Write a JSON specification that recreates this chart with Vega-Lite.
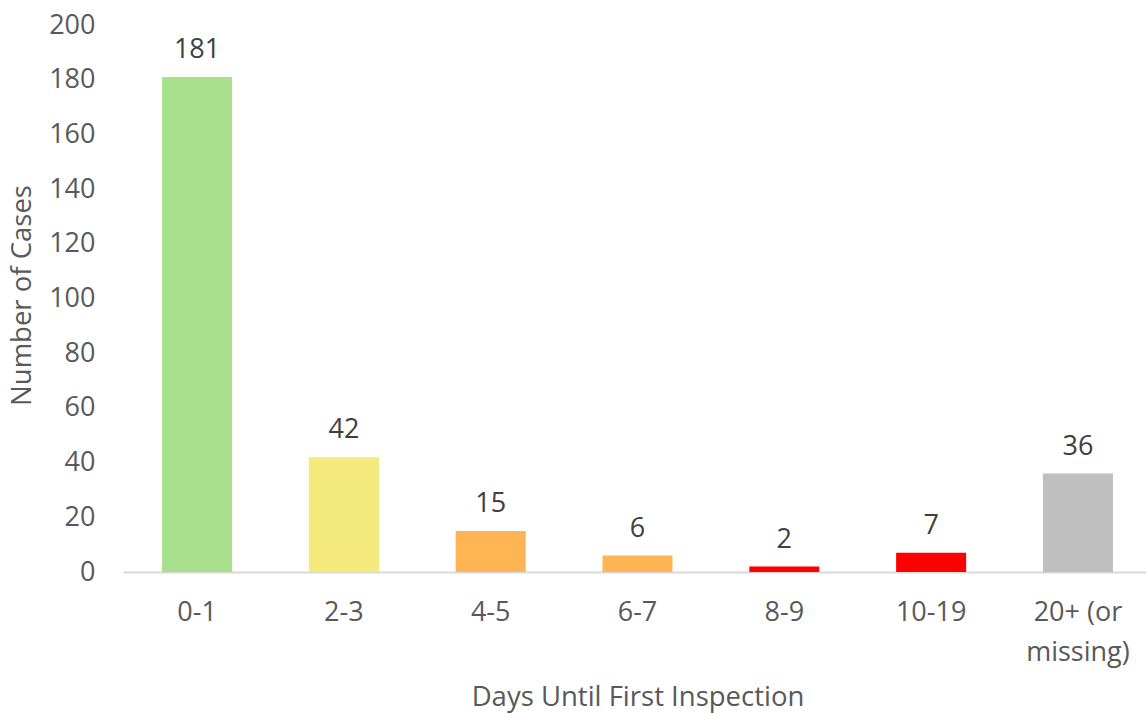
{
  "$schema": "https://vega.github.io/schema/vega-lite/v6.json",
  "width": 1029,
  "height": 547,
  "autosize": {"type": "none"},
  "padding": {"left": 123, "top": 25, "right": 0, "bottom": 141},
  "background": "white",
  "config": {"view": {"stroke": null}, "font": "Open Sans"},
  "data": {"values": [
    {"days": "0-1", "cases": 181, "color": "#A9E08E"},
    {"days": "2-3", "cases": 42, "color": "#F3EA7B"},
    {"days": "4-5", "cases": 15, "color": "#FFB553"},
    {"days": "6-7", "cases": 6, "color": "#FFB553"},
    {"days": "8-9", "cases": 2, "color": "#FF0000"},
    {"days": "10-19", "cases": 7, "color": "#FF0000"},
    {"days": "20+ (or missing)", "cases": 36, "color": "#BFBFBF"}
  ]},
  "encoding": {
    "x": {
      "field": "days", "type": "nominal", "sort": null,
      "scale": {"paddingInner": 0.523, "paddingOuter": 0.266},
      "axis": {
        "title": "Days Until First Inspection",
        "titleFont": "Open Sans", "titleFontSize": 27.5, "titleFontWeight": "normal", "titleColor": "#595959",
        "titleY": 125, "titleBaseline": "middle",
        "labelFont": "Open Sans", "labelFontSize": 27, "labelColor": "#595959",
        "labelAngle": 0, "labelPadding": 27, "labelLineHeight": 40,
        "labelExpr": "datum.label == '20+ (or missing)' ? ['20+ (or', 'missing)'] : datum.label",
        "ticks": false, "domainColor": "#D9D9D9", "domainWidth": 2, "grid": false
      }
    },
    "y": {
      "field": "cases", "type": "quantitative",
      "scale": {"domain": [0, 200], "nice": false},
      "axis": {
        "title": "Number of Cases",
        "titleFont": "Open Sans", "titleFontSize": 27.5, "titleFontWeight": "normal", "titleColor": "#595959",
        "titleAngle": -90, "titleX": -101, "titleY": 270, "titleAlign": "center", "titleBaseline": "middle",
        "labelFont": "Open Sans", "labelFontSize": 27, "labelColor": "#595959", "labelPadding": 28,
        "values": [0, 20, 40, 60, 80, 100, 120, 140, 160, 180, 200],
        "ticks": false, "domain": false, "grid": false
      }
    }
  },
  "layer": [
    {"mark": {"type": "bar"}, "encoding": {"color": {"field": "color", "type": "nominal", "scale": null}}},
    {"mark": {"type": "text", "baseline": "alphabetic", "dy": -19, "fontSize": 27, "font": "Open Sans", "color": "#404040"},
     "encoding": {"text": {"field": "cases", "type": "quantitative"}}}
  ]
}
